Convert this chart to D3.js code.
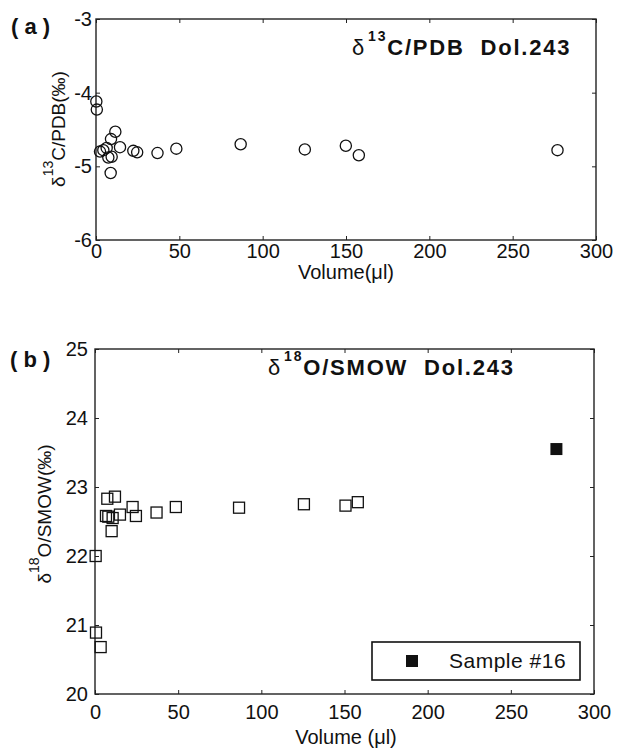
<!DOCTYPE html>
<html>
<head>
<meta charset="utf-8">
<script src="https://cdn.jsdelivr.net/npm/d3@7"></script>
<style>
  body { margin: 0; background: #fff; }
  svg { font-family: "Liberation Sans", Arial, Helvetica, sans-serif; }
  text { fill: #111; }
</style>
</head>
<body>
<div id="chart"></div>
<script>
// Panel (a): delta13C vs volume
const volA = [0.2, 0.5, 2.4, 4.4, 6.4, 7.4, 9.4, 8.8, 9.0, 11.6, 14.4, 22.4, 24.7, 36.9, 48.2, 86.8, 125.3, 149.9, 157.7, 276.9];
const c13 = [-4.12, -4.23, -4.80, -4.78, -4.75, -4.88, -4.87, -5.09, -4.63, -4.53, -4.74, -4.79, -4.81, -4.82, -4.76, -4.70, -4.77, -4.72, -4.85, -4.78];

// Panel (b): delta18O vs volume
const volB = [0.4, 0.6, 3.4, 6.6, 7.4, 12.0, 8.0, 10.6, 10.0, 15.0, 22.6, 24.6, 37.0, 48.6, 86.6, 125.6, 150.6, 158.0];
const o18 = [22.0, 20.89, 20.68, 22.58, 22.83, 22.86, 22.57, 22.55, 22.36, 22.60, 22.71, 22.58, 22.63, 22.71, 22.70, 22.75, 22.73, 22.78];
const sample16Vol = [277.4];
const sample16O18 = [23.55];

const xTicks = [0, 50, 100, 150, 200, 250, 300];
const yTicksA = [-6, -5, -4, -3];
const yTicksB = [20, 21, 22, 23, 24, 25];

const svg = d3.select("#chart").append("svg")
    .attr("width", 617)
    .attr("height", 756);

function drawFrame(x, y, xt, yt, xPad, yPad) {
    const [x0, x1] = x.range();
    const [y0, y1] = y.range();
    const g = svg.append("g");
    const fmt = d => String(d);

    // ticks pointing inward on all four sides
    g.append("g").attr("transform", `translate(0,${y0})`)
        .call(d3.axisBottom(x).tickValues(xt).tickSizeInner(-4).tickSizeOuter(0).tickPadding(xPad).tickFormat(fmt))
        .call(a => a.select(".domain").remove());
    g.append("g").attr("transform", `translate(0,${y1})`)
        .call(d3.axisTop(x).tickValues(xt).tickSizeInner(-4).tickSizeOuter(0).tickFormat(""))
        .call(a => a.select(".domain").remove());
    g.append("g").attr("transform", `translate(${x0},0)`)
        .call(d3.axisLeft(y).tickValues(yt).tickSizeInner(-4).tickSizeOuter(0).tickPadding(yPad).tickFormat(fmt))
        .call(a => a.select(".domain").remove());
    g.append("g").attr("transform", `translate(${x1},0)`)
        .call(d3.axisRight(y).tickValues(yt).tickSizeInner(-4).tickSizeOuter(0).tickFormat(""))
        .call(a => a.select(".domain").remove());

    g.selectAll(".tick line").attr("stroke", "#222").attr("stroke-width", 1);
    g.selectAll(".tick text")
        .attr("font-size", 20)
        .attr("font-family", "Liberation Sans, Arial, sans-serif")
        .attr("fill", "#111");

    g.append("rect")
        .attr("x", x0).attr("y", y1)
        .attr("width", x1 - x0).attr("height", y0 - y1)
        .attr("fill", "none")
        .attr("stroke", "#222")
        .attr("stroke-width", 1.4);
    return g;
}

// ---------- panel (a) ----------
const xA = d3.scaleLinear().domain([0, 300]).range([96, 596]);
const yA = d3.scaleLinear().domain([-6, -3]).range([240, 19]);
drawFrame(xA, yA, xTicks, yTicksA, 4, 4);

svg.append("g").selectAll("circle")
    .data(volA.map((v, i) => [v, c13[i]]))
    .join("circle")
    .attr("cx", d => xA(d[0]))
    .attr("cy", d => yA(d[1]))
    .attr("r", 5.6)
    .attr("fill", "none")
    .attr("stroke", "#111")
    .attr("stroke-width", 1.3);

svg.append("text").attr("x", 11).attr("y", 34)
    .attr("font-size", 22).attr("font-weight", "bold")
    .style("white-space", "pre").text("( a )");

const titleA = svg.append("text").attr("x", 352).attr("y", 55)
    .attr("font-size", 22).attr("font-weight", "bold").attr("letter-spacing", 1.8)
    .style("white-space", "pre");
titleA.append("tspan").attr("font-weight", "normal").text("δ");
titleA.append("tspan").attr("font-size", 14).attr("dy", -14).attr("dx", 2).text("13");
titleA.append("tspan").attr("dy", 14).text("C/PDB  Dol.243");

const ylabA = svg.append("text")
    .attr("transform", "translate(65,129) rotate(-90)")
    .attr("text-anchor", "middle").attr("font-size", 19);
ylabA.append("tspan").text("δ");
ylabA.append("tspan").attr("font-size", 14).attr("dy", -12).text("13");
ylabA.append("tspan").attr("dy", 12).text("C/PDB(‰)");

svg.append("text").attr("x", 346).attr("y", 279)
    .attr("text-anchor", "middle").attr("font-size", 20).text("Volume(μl)");

// ---------- panel (b) ----------
const xB = d3.scaleLinear().domain([0, 300]).range([95, 594]);
const yB = d3.scaleLinear().domain([20, 25]).range([694, 349]);
drawFrame(xB, yB, xTicks, yTicksB, 11, 7);

const sq = 11;
svg.append("g").selectAll("rect")
    .data(volB.map((v, i) => [v, o18[i]]))
    .join("rect")
    .attr("x", d => xB(d[0]) - sq / 2)
    .attr("y", d => yB(d[1]) - sq / 2)
    .attr("width", sq).attr("height", sq)
    .attr("fill", "none")
    .attr("stroke", "#111")
    .attr("stroke-width", 1.3);

svg.append("g").selectAll("rect")
    .data(sample16Vol.map((v, i) => [v, sample16O18[i]]))
    .join("rect")
    .attr("x", d => xB(d[0]) - 6)
    .attr("y", d => yB(d[1]) - 6)
    .attr("width", 12).attr("height", 12)
    .attr("fill", "#111");

svg.append("text").attr("x", 10).attr("y", 367)
    .attr("font-size", 22).attr("font-weight", "bold")
    .style("white-space", "pre").text("( b )");

const titleB = svg.append("text").attr("x", 268).attr("y", 375)
    .attr("font-size", 22).attr("font-weight", "bold").attr("letter-spacing", 1.8)
    .style("white-space", "pre");
titleB.append("tspan").attr("font-weight", "normal").text("δ");
titleB.append("tspan").attr("font-size", 14).attr("dy", -14).attr("dx", 2).text("18");
titleB.append("tspan").attr("dy", 14).text("O/SMOW  Dol.243");

const ylabB = svg.append("text")
    .attr("transform", "translate(51,514) rotate(-90)")
    .attr("text-anchor", "middle").attr("font-size", 19);
ylabB.append("tspan").text("δ");
ylabB.append("tspan").attr("font-size", 14).attr("dy", -12).text("18");
ylabB.append("tspan").attr("dy", 12).text("O/SMOW(‰)");

svg.append("text").attr("x", 346).attr("y", 744)
    .attr("text-anchor", "middle").attr("font-size", 20)
    .style("white-space", "pre").text("Volume (μl)");

// legend
const lg = svg.append("g");
lg.append("rect").attr("x", 372).attr("y", 642).attr("width", 208).attr("height", 38)
    .attr("fill", "#fff").attr("stroke", "#111").attr("stroke-width", 1.6);
lg.append("rect").attr("x", 406).attr("y", 655).attr("width", 12).attr("height", 12).attr("fill", "#111");
lg.append("text").attr("x", 449).attr("y", 668)
    .attr("font-size", 21).attr("letter-spacing", 0.5).text("Sample #16");
</script>
</body>
</html>
